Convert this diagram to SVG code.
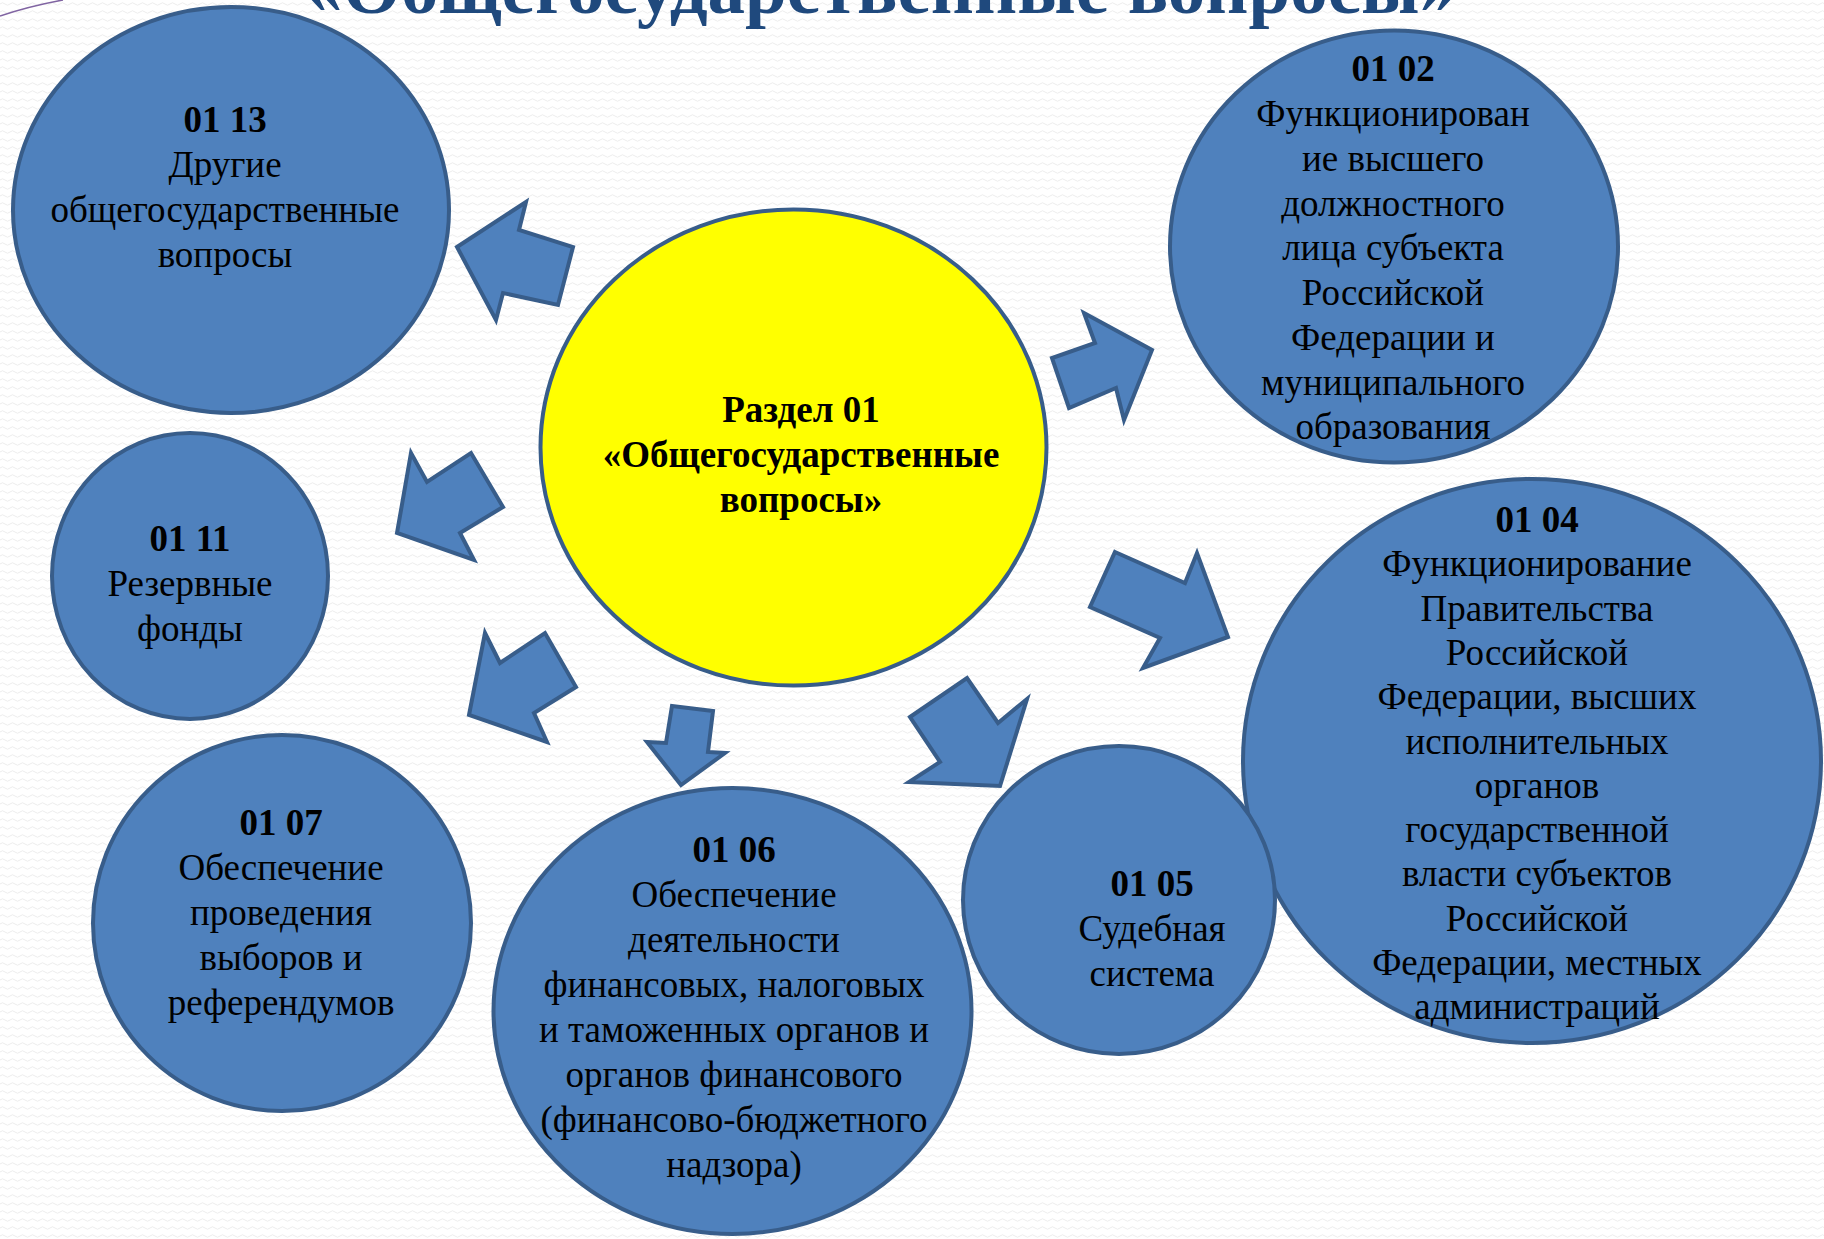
<svg xmlns="http://www.w3.org/2000/svg" width="1824" height="1239" viewBox="0 0 1824 1239">
<defs>
<pattern id="bg" width="10" height="8" patternUnits="userSpaceOnUse">
<path d="M0 4 Q2.5 1.5 5 4 T10 4" fill="none" stroke="#ededed" stroke-width="1"/>
</pattern>
<style>
.node ellipse{fill:#4f81bd;stroke:#385d8a;stroke-width:4}
.node .center{fill:#ffff00}
.t{font-family:"Liberation Serif","Times New Roman",serif;font-size:37px;fill:#000;text-anchor:middle}
.b{font-weight:bold}
.arrow{fill:#4f81bd;stroke:#385d8a;stroke-width:4;stroke-linejoin:miter}
.title{font-family:"Liberation Serif","Times New Roman",serif;font-size:75px;font-weight:bold;fill:#1f497d;text-anchor:middle}
</style>
</defs>
<rect width="1824" height="1239" fill="#ffffff"/>
<rect width="1824" height="1239" fill="url(#bg)"/>
<path d="M0 16 Q30 6 63 0" fill="none" stroke="#8064a2" stroke-width="1.5"/>
<text class="title" x="881" y="13">«Общегосударственные вопросы»</text>

<g id="node-0113" class="node">
<ellipse cx="231" cy="210" rx="218" ry="203"/>
<text class="t" x="225" y="132"><tspan class="b">01 13</tspan><tspan x="225" dy="45">Другие</tspan><tspan x="225" dy="45">общегосударственные</tspan><tspan x="225" dy="45">вопросы</tspan></text>
</g>

<g id="node-0102" class="node">
<ellipse cx="1394" cy="246.5" rx="224" ry="216"/>
<text class="t" x="1393" y="81"><tspan class="b">01 02</tspan><tspan x="1393" dy="45">Функционирован</tspan><tspan x="1393" dy="45">ие высшего</tspan><tspan x="1393" dy="45">должностного</tspan><tspan x="1393" dy="44">лица субъекта</tspan><tspan x="1393" dy="45">Российской</tspan><tspan x="1393" dy="45">Федерации и</tspan><tspan x="1393" dy="45">муниципального</tspan><tspan x="1393" dy="44">образования</tspan></text>
</g>

<g id="node-0111" class="node">
<ellipse cx="190" cy="576" rx="138" ry="143"/>
<text class="t" x="190" y="551"><tspan class="b">01 11</tspan><tspan x="190" dy="45">Резервные</tspan><tspan x="190" dy="45">фонды</tspan></text>
</g>

<g id="node-0107" class="node">
<ellipse cx="282" cy="923" rx="189" ry="188"/>
<text class="t" x="281" y="835"><tspan class="b">01 07</tspan><tspan x="281" dy="45">Обеспечение</tspan><tspan x="281" dy="45">проведения</tspan><tspan x="281" dy="45">выборов и</tspan><tspan x="281" dy="45">референдумов</tspan></text>
</g>

<g id="node-0106" class="node">
<ellipse cx="732.5" cy="1011" rx="239" ry="223"/>
<text class="t" x="734" y="862"><tspan class="b">01 06</tspan><tspan x="734" dy="45">Обеспечение</tspan><tspan x="734" dy="45">деятельности</tspan><tspan x="734" dy="45">финансовых, налоговых</tspan><tspan x="734" dy="45">и таможенных органов и</tspan><tspan x="734" dy="45">органов финансового</tspan><tspan x="734" dy="45">(финансово-бюджетного</tspan><tspan x="734" dy="45">надзора)</tspan></text>
</g>

<g id="node-0104" class="node">
<ellipse cx="1532" cy="761" rx="289" ry="282"/>
<text class="t" x="1537" y="532"><tspan class="b">01 04</tspan><tspan x="1537" dy="44.3">Функционирование</tspan><tspan x="1537" dy="44.3">Правительства</tspan><tspan x="1537" dy="44.3">Российской</tspan><tspan x="1537" dy="44.3">Федерации, высших</tspan><tspan x="1537" dy="44.3">исполнительных</tspan><tspan x="1537" dy="44.3">органов</tspan><tspan x="1537" dy="44.3">государственной</tspan><tspan x="1537" dy="44.3">власти субъектов</tspan><tspan x="1537" dy="44.3">Российской</tspan><tspan x="1537" dy="44.3">Федерации, местных</tspan><tspan x="1537" dy="44.3">администраций</tspan></text>
</g>

<g id="node-0105" class="node">
<ellipse cx="1119" cy="900" rx="156" ry="154"/>
<text class="t" x="1152" y="896"><tspan class="b">01 05</tspan><tspan x="1152" dy="45">Судебная</tspan><tspan x="1152" dy="45">система</tspan></text>
</g>

<g id="node-center" class="node">
<ellipse class="center" cx="793.5" cy="447.5" rx="253" ry="238"/>
<text class="t b" x="801" y="422"><tspan>Раздел 01</tspan><tspan x="801" dy="45">«Общегосударственные</tspan><tspan x="801" dy="45">вопросы»</tspan></text>
</g>

<g id="connectors">
<polygon class="arrow" points="526,202 519,230 573,247 558,305 503,293 496,320 457,247"/>
<polygon class="arrow" points="1084,313 1095,343 1052,358 1069,408 1116,388 1124,420 1152,350"/>
<polygon class="arrow" points="411,453 427,482 471,453 503,507 460,533 474,560 397,533"/>
<polygon class="arrow" points="1115,552 1185,583 1197,553 1228,637 1143,668 1160,638 1090,607"/>
<polygon class="arrow" points="485,633 500,663 545,633 576,687 534,713 547,742 469,715"/>
<polygon class="arrow" points="672,706 713,711 708,752 725,753 681,785 647,742 666,743"/>
<polygon class="arrow" points="910,717 967,678 998,723 1027,699 1000,786 909,782 940,762"/>
</g>
</svg>
